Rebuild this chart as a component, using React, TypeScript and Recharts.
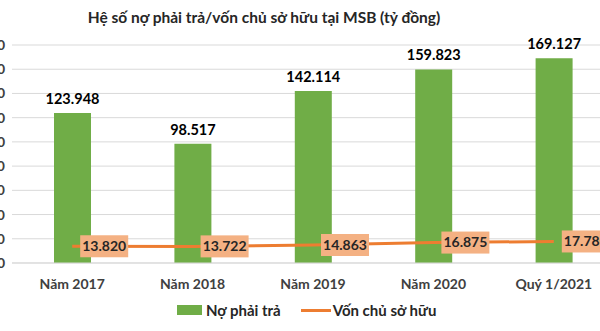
import { ComposedChart, Bar, Line, XAxis, YAxis, CartesianGrid, LabelList } from "recharts";

const categories = ["Năm 2017", "Năm 2018", "Năm 2019", "Năm 2020", "Quý 1/2021"];
const debt = [123948, 98517, 142114, 159823, 169127];
const equity = [13820, 13722, 14863, 16875, 17780];
const yTicks = [0, 20000, 40000, 60000, 80000, 100000, 120000, 140000, 160000, 180000];

const data = categories.map((name, i) => ({ name, debt: debt[i], equity: equity[i] }));

const FONT = "Lato, 'Noto Sans', sans-serif";

function fmt(v: number) {
  return String(v).replace(/\B(?=(\d{3})+(?!\d))/g, ".");
}

// orange box label, sits right of the point like excel does
function BoxLabel(props: any) {
  const { x, y, value } = props;
  if (x == null || y == null) return null;
  const w = 48, h = 22;
  return (
    <g>
      <rect x={x + 8} y={y - h / 2} width={w} height={h} fill="#F4B183" />
      <text x={x + 8 + w / 2} y={y + 1} textAnchor="middle" dominantBaseline="middle"
        fontFamily={FONT} fontWeight="bold" fontSize={14} fill="#262626">
        {fmt(Number(value))}
      </text>
    </g>
  );
}

export default function App() {
  return (
    <div style={{ position: "absolute", left: 0, top: 0, width: 600, height: 331, overflow: "hidden", background: "#fff", fontFamily: FONT }}>
      <div style={{ position: "absolute", left: 0, top: 8, width: 528, textAlign: "center", fontWeight: "bold", fontSize: 15.5, color: "#262626" }}>
        Hệ số nợ phải trả/vốn chủ sở hữu tại MSB (tỷ đồng)
      </div>
      <div style={{ position: "absolute", left: -60, top: 0 }}>
        <ComposedChart width={682} height={331} data={data}
          margin={{ top: 45, right: 8, bottom: 38, left: 0 }} barCategoryGap={41}>
          <CartesianGrid vertical={false} stroke="#D9D9D9" />
          <XAxis dataKey="name" axisLine={{ stroke: "#D9D9D9" }} tickLine={false} tickSize={0} tickMargin={16}
            height={30} tick={{ fill: "#404040", fontSize: 14, fontWeight: "bold", fontFamily: FONT }} />
          <YAxis width={72} domain={[0, 180000]} ticks={yTicks} axisLine={false} tickLine={false}
            tickSize={0} tickMargin={7} tickFormatter={(v) => fmt(Number(v))}
            tick={{ fill: "#404040", fontSize: 14, fontWeight: "bold", fontFamily: FONT }} />
          <Bar dataKey="debt" fill="#70AD47" barSize={37} isAnimationActive={false}>
            <LabelList dataKey="debt" position="top" offset={9} formatter={(v: any) => fmt(Number(v))}
              style={{ fill: "#000", fontSize: 14.5, fontWeight: "bold", fontFamily: FONT }} />
          </Bar>
          <Line dataKey="equity" stroke="#ED7D31" strokeWidth={3} dot={false} isAnimationActive={false}>
            <LabelList dataKey="equity" content={<BoxLabel />} />
          </Line>
        </ComposedChart>
      </div>
      <div style={{ position: "absolute", top: 301, left: 177, display: "flex", alignItems: "center", fontSize: 15, fontWeight: "bold", color: "#262626" }}>
        <span style={{ display: "inline-block", width: 25, height: 10, background: "#70AD47", marginRight: 4 }} />
        <span>Nợ phải trả</span>
        <span style={{ display: "inline-block", width: 30, height: 3, background: "#ED7D31", marginLeft: 20, marginRight: 2 }} />
        <span>Vốn chủ sở hữu</span>
      </div>
    </div>
  );
}
